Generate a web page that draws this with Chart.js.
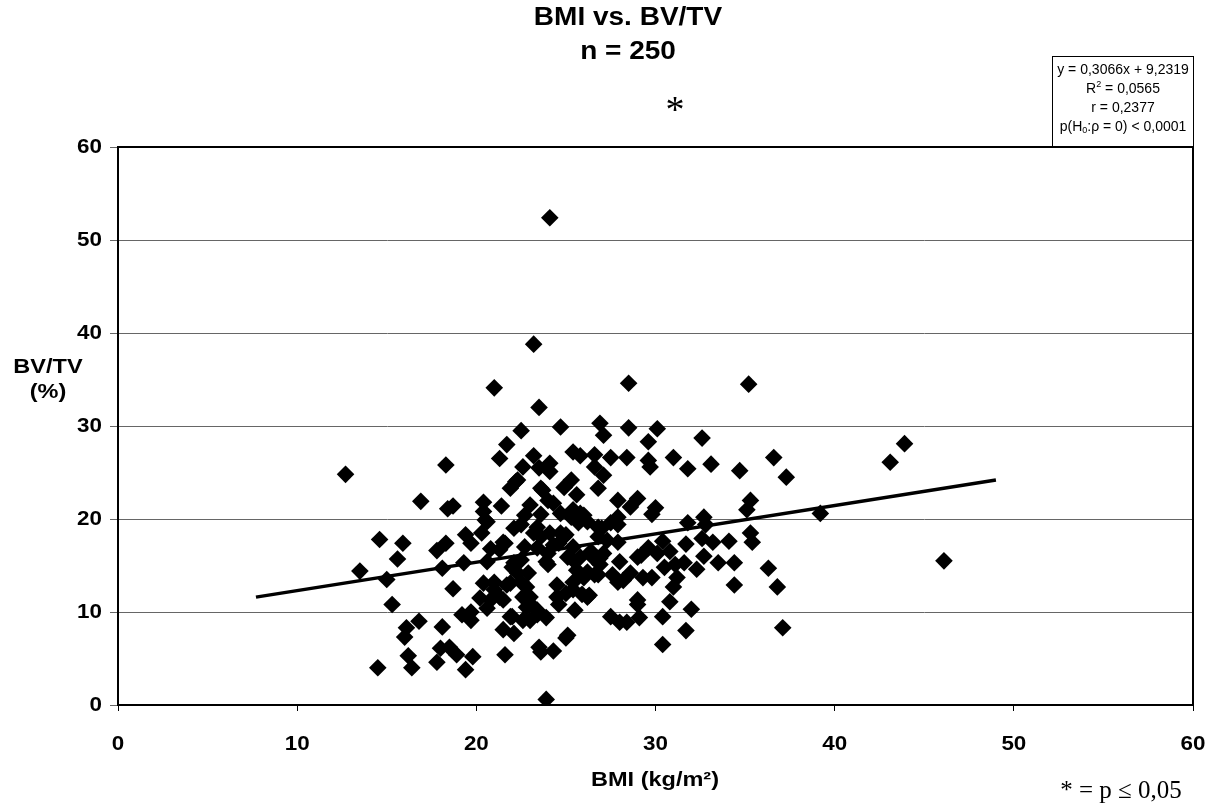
<!DOCTYPE html>
<html>
<head>
<meta charset="utf-8">
<script src="https://cdn.jsdelivr.net/npm/chart.js@4.4.1/dist/chart.umd.min.js"></script>
<style>
  html, body { margin: 0; padding: 0; background: #fff; }
</style>
</head>
<body>
<canvas id="chart" width="1218" height="810"></canvas>
<script>
// BMI (kg/m²) per sample
const bmi = [
  12.7, 13.5, 14.5, 14.6, 15.0, 15.3, 15.6, 15.9, 16.0, 16.1,
  16.2, 16.4, 16.8, 16.9, 17.8, 17.8, 18.0, 18.1, 18.1, 18.3,
  18.3, 18.4, 18.5, 18.7, 18.7, 18.9, 19.2, 19.3, 19.4, 19.4,
  19.7, 19.7, 19.7, 19.8, 20.2, 20.3, 20.4, 20.4, 20.5, 20.4,
  20.6, 20.6, 20.8, 20.8, 21.0, 21.0, 21.0, 21.3, 21.3, 21.3,
  21.4, 21.5, 21.5, 21.6, 21.7, 21.7, 21.9, 21.9, 21.9, 22.0,
  22.1, 22.1, 22.1, 22.2, 22.3, 22.5, 22.5, 22.5, 22.5, 22.6,
  22.6, 22.6, 22.7, 22.7, 22.8, 22.8, 22.9, 23.0, 23.0, 23.0,
  23.0, 23.2, 23.2, 23.2, 23.4, 23.4, 23.4, 23.4, 23.5, 23.5,
  23.5, 23.6, 23.6, 23.6, 23.6, 23.9, 23.9, 23.9, 24.0, 24.0,
  24.0, 24.1, 24.1, 24.1, 24.1, 24.3, 24.3, 24.3, 24.5, 24.5,
  24.6, 24.6, 24.7, 24.7, 24.7, 24.9, 24.9, 25.0, 25.0, 25.1,
  25.3, 25.3, 25.4, 25.4, 25.4, 25.4, 25.4, 25.4, 25.5, 25.6,
  25.6, 25.7, 25.8, 25.8, 25.8, 25.9, 26.0, 26.0, 26.2, 26.2,
  26.2, 26.4, 26.5, 26.6, 26.6, 26.6, 26.8, 26.8, 26.8, 26.9,
  26.9, 26.9, 27.0, 27.1, 27.1, 27.1, 27.3, 27.5, 27.5, 27.5,
  27.6, 27.9, 27.9, 27.9, 27.9, 27.9, 28.0, 28.0, 28.2, 28.4,
  28.4, 28.5, 28.5, 28.6, 28.6, 29.0, 29.0, 29.0, 29.0, 29.1,
  29.2, 29.3, 29.6, 29.6, 29.6, 29.7, 29.8, 29.8, 30.0, 30.1,
  30.1, 30.4, 30.4, 30.4, 30.5, 30.8, 30.8, 31.0, 31.0, 31.1,
  31.2, 31.6, 31.7, 31.7, 31.8, 31.8, 32.0, 32.3, 32.6, 32.6,
  32.7, 32.7, 32.8, 33.1, 33.2, 33.5, 34.1, 34.4, 34.4, 34.7,
  35.1, 35.2, 35.3, 35.3, 35.4, 36.3, 36.6, 36.8, 37.1, 37.3,
  39.2, 43.1, 43.9, 46.1, 22.0, 21.5, 26.3, 20.6, 25.0, 25.1,
  22.3, 23.7, 26.8, 21.6
];

// BV/TV (%) per sample, same order as bmi
const bvtv = [
  24.8, 14.4, 4.0, 17.8, 13.5, 10.8, 15.7, 17.4, 7.3, 8.3,
  5.3, 4.0, 9.0, 21.9, 16.6, 4.6, 6.1, 14.7, 8.4, 25.8,
  17.4, 21.1, 6.2, 21.4, 12.5, 5.4, 9.7, 15.3, 18.3, 3.8,
  17.4, 9.1, 10.0, 5.2, 11.5, 18.5, 21.8, 20.8, 19.9, 13.1,
  15.4, 10.4, 16.8, 11.3, 34.1, 13.2, 12.4, 26.5, 11.6, 16.7,
  21.4, 17.5, 8.1, 5.4, 28.0, 12.9, 23.3, 13.1, 9.5, 14.8,
  19.0, 15.3, 7.7, 24.0, 14.2, 29.5, 19.4, 15.6, 13.2, 25.6,
  11.6, 9.1, 20.4, 17.0, 12.7, 10.5, 14.2, 21.5, 11.6, 9.1,
  10.9, 38.8, 26.8, 18.5, 9.7, 19.1, 16.9, 10.2, 32.0, 25.5,
  6.2, 23.3, 20.5, 18.1, 5.7, 0.6, 15.4, 9.4, 22.0, 16.3,
  15.1, 52.4, 26.0, 25.1, 18.5, 21.7, 17.2, 5.8, 12.9, 11.6,
  17.4, 10.8, 29.9, 20.6, 18.5, 23.4, 18.1, 12.0, 7.2, 15.9,
  24.2, 20.2, 27.2, 21.0, 17.0, 15.6, 13.2, 12.4, 10.2, 22.6,
  14.5, 19.6, 26.8, 20.6, 15.9, 11.9, 20.4, 13.7, 19.7, 14.3,
  11.6, 16.5, 15.9, 26.9, 25.6, 14.0, 23.3, 19.1, 18.1, 15.1,
  30.3, 15.8, 19.0, 29.0, 24.7, 16.3, 17.7, 26.6, 19.6, 9.5,
  14.0, 22.0, 20.2, 19.4, 17.5, 13.2, 15.4, 8.9, 13.4, 26.6,
  8.9, 34.6, 29.8, 21.3, 14.2, 22.2, 15.9, 11.3, 10.8, 9.4,
  16.1, 13.7, 28.3, 26.3, 16.9, 25.6, 20.5, 13.7, 21.2, 29.7,
  16.3, 17.6, 9.5, 6.5, 14.8, 16.5, 11.1, 26.6, 12.7, 15.1,
  13.7, 15.3, 17.3, 8.0, 25.4, 19.6, 10.3, 14.6, 28.7, 17.9,
  20.2, 16.0, 19.4, 25.9, 17.5, 15.3, 17.6, 15.3, 12.9, 25.2,
  21.0, 34.5, 22.0, 18.5, 17.5, 14.7, 26.6, 12.7, 8.3, 24.5,
  20.6, 26.1, 28.1, 15.5, 9.5, 11.3, 11.8, 19.7, 18.3, 7.5,
  24.2, 23.1, 14.0, 17.4
];

// linear trendline end points (as drawn)
const trendX = [7.7, 49.0];
const trendY = [11.6, 24.2];

const xTicks = [0, 10, 20, 30, 40, 50, 60];
const yTicks = [0, 10, 20, 30, 40, 50, 60];

const titleLines = ['BMI vs. BV/TV', 'n = 250'];
const xTitle = 'BMI (kg/m²)';
const yTitleLines = ['BV/TV', '(%)'];
const statsLines = [
  [{ t: 'y = 0,3066x + 9,2319' }],
  [{ t: 'R' }, { t: '2', sup: true }, { t: ' = 0,0565' }],
  [{ t: 'r = 0,2377' }],
  [{ t: 'p(H' }, { t: '0', sub: true }, { t: ':ρ = 0) < 0,0001' }]
];
const footnote = '* = p ≤ 0,05';

const SANS = '"Liberation Sans", Arial, Helvetica, sans-serif';
const SERIF = '"Liberation Serif", "Times New Roman", serif';
const SX = 1.12; // the original text is a little wider than plain Arial

function stretchText(ctx, text, x, y, font, align, sx) {
  ctx.save();
  ctx.font = font;
  ctx.textAlign = align || 'center';
  ctx.textBaseline = 'middle';
  ctx.fillStyle = '#000';
  ctx.translate(x, y);
  ctx.scale(sx || 1, 1);
  ctx.fillText(text, 0, 0);
  ctx.restore();
}

// centred line made of pieces, some raised or lowered
function richLine(ctx, parts, cx, y, size) {
  ctx.save();
  ctx.fillStyle = '#000';
  ctx.textBaseline = 'middle';
  ctx.textAlign = 'left';
  const fontFor = p => ((p.sup || p.sub) ? Math.round(size * 0.65) : size) + 'px ' + SANS;
  let w = 0;
  parts.forEach(p => { ctx.font = fontFor(p); w += ctx.measureText(p.t).width; });
  let x = cx - w / 2;
  parts.forEach(p => {
    ctx.font = fontFor(p);
    let dy = p.sup ? -size * 0.35 : (p.sub ? size * 0.25 : 0);
    ctx.fillText(p.t, x, y + dy);
    x += ctx.measureText(p.t).width;
  });
  ctx.restore();
}

const decorations = {
  id: 'decorations',
  beforeDatasetsDraw(chart) {
    const { ctx, chartArea: a } = chart;
    // frame round the plot
    ctx.save();
    ctx.strokeStyle = '#000';
    ctx.lineWidth = 2;
    ctx.strokeRect(a.left, a.top, a.right - a.left, a.bottom - a.top);
    ctx.restore();
  },
  afterDraw(chart) {
    const { ctx, scales } = chart;
    const xs = scales.x, ys = scales.y;

    // tick labels
    xTicks.forEach(v => {
      stretchText(ctx, String(v), xs.getPixelForValue(v), 744, 'bold 20px ' + SANS, 'center', SX);
    });
    yTicks.forEach(v => {
      stretchText(ctx, String(v), 102, ys.getPixelForValue(v), 'bold 20px ' + SANS, 'right', SX);
    });

    // titles
    stretchText(ctx, titleLines[0], 628, 18, 'bold 25px ' + SANS, 'center', SX);
    stretchText(ctx, titleLines[1], 628, 52, 'bold 25px ' + SANS, 'center', SX);
    stretchText(ctx, '*', 675, 112, '38px ' + SERIF, 'center', 1);

    stretchText(ctx, yTitleLines[0], 48, 367, 'bold 21px ' + SANS, 'center', SX);
    stretchText(ctx, yTitleLines[1], 48, 392, 'bold 21px ' + SANS, 'center', SX);
    stretchText(ctx, xTitle, 655, 780, 'bold 21px ' + SANS, 'center', SX);

    // regression box
    ctx.save();
    ctx.strokeStyle = '#000';
    ctx.lineWidth = 1;
    ctx.fillStyle = '#fff';
    ctx.fillRect(1052.5, 56.5, 141, 90);
    ctx.strokeRect(1052.5, 56.5, 141, 90);
    ctx.restore();
    const ly = [70, 89, 108, 127];
    statsLines.forEach((parts, i) => richLine(ctx, parts, 1123, ly[i], 14));

    // footnote
    stretchText(ctx, footnote, 1121, 791, '25px ' + SERIF, 'center', 1);
  }
};

const ctx = document.getElementById('chart').getContext('2d');
new Chart(ctx, {
  type: 'scatter',
  data: {
    datasets: [
      {
        label: 'Trend',
        type: 'line',
        data: trendX.map((x, i) => ({ x, y: trendY[i] })),
        borderColor: '#000',
        borderWidth: 3.5,
        pointRadius: 0,
        fill: false,
        order: 0
      },
      {
        label: 'BV/TV',
        data: bmi.map((x, i) => ({ x, y: bvtv[i] })),
        pointStyle: 'rectRot',
        pointRadius: 8.8,
        backgroundColor: '#000',
        borderColor: '#000',
        borderWidth: 0,
        order: 1
      }
    ]
  },
  options: {
    responsive: false,
    animation: false,
    layout: { padding: { top: 147, right: 25, left: 0, bottom: 0 } },
    plugins: {
      legend: { display: false },
      tooltip: { enabled: false },
      title: { display: false }
    },
    scales: {
      x: {
        type: 'linear',
        min: 0,
        max: 60,
        ticks: { stepSize: 10, display: false },
        grid: { drawOnChartArea: false, color: '#000', tickLength: 6 },
        border: { color: '#000', width: 2 },
        afterFit: s => { s.height = 105; }
      },
      y: {
        type: 'linear',
        min: 0,
        max: 60,
        ticks: { stepSize: 10, display: false },
        grid: { color: '#666', tickLength: 8 },
        border: { color: '#000', width: 2 },
        afterFit: s => { s.width = 118; }
      }
    }
  },
  plugins: [decorations]
});
</script>
</body>
</html>
